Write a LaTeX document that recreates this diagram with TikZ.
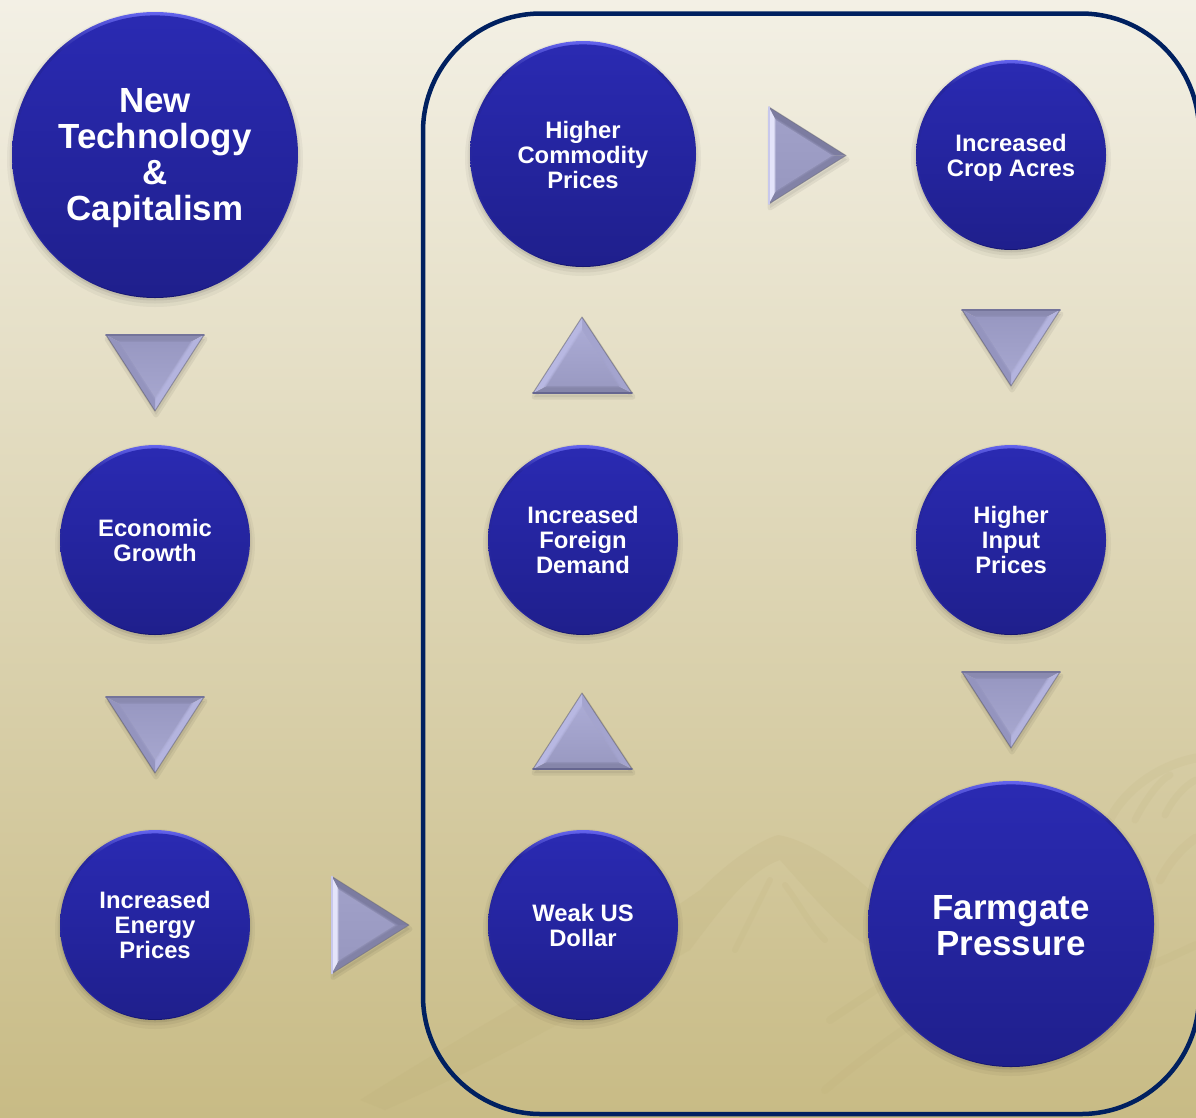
\documentclass[tikz,border=0pt]{standalone}
\usepackage{fontspec}
\setmainfont{Liberation Sans}
\usetikzlibrary{calc}
\definecolor{bgtop}{HTML}{F3F0E5}
\definecolor{bgbot}{HTML}{C8BB85}
\definecolor{frame}{HTML}{002060}
\definecolor{mount}{HTML}{B8AA72}
\definecolor{rimtop}{HTML}{6464EE}
\definecolor{rimmid}{HTML}{26269E}
\definecolor{rimbot}{HTML}{15156E}
\definecolor{discA}{HTML}{2A2AB2}
\definecolor{discB}{HTML}{1F1F8C}
\definecolor{dnA}{HTML}{8A8AB0}
\definecolor{dnB}{HTML}{B4B4DE}
\definecolor{dnC}{HTML}{9494BE}
\definecolor{dnT}{HTML}{9898C2}
\definecolor{dnM}{HTML}{A6A6CE}
\definecolor{dnE}{HTML}{74749A}
\definecolor{upA}{HTML}{8686AA}
\definecolor{upB}{HTML}{A4A4CE}
\definecolor{upC}{HTML}{B8B8E2}
\definecolor{upT}{HTML}{AAAAD4}
\definecolor{upM}{HTML}{9A9AC2}
\definecolor{upE}{HTML}{666690}
\definecolor{rtA}{HTML}{E4E4FA}
\definecolor{rtB}{HTML}{8282A6}
\definecolor{rtC}{HTML}{7C7CA0}
\definecolor{rtT}{HTML}{A0A0C8}
\definecolor{rtM}{HTML}{9898C0}
\definecolor{rtE}{HTML}{C8C8EC}
\pgfdeclareverticalshading{rimshade}{100bp}{color(0bp)=(rimbot); color(25bp)=(rimbot); color(30bp)=(rimmid); color(68bp)=(rimmid); color(75bp)=(rimtop); color(100bp)=(rimtop)}
\tikzset{
  x=1pt,y=-1pt,
  bigtext/.style={font=\bfseries\fontsize{34.9}{36}\selectfont},
  smalltext/.style={font=\bfseries\fontsize{23.8}{25}\selectfont},
  bubble/.style={circle,inner sep=0pt,align=center,text=white},
  ridge/.style={draw=mount,opacity=.11,line cap=round,line join=round},
}
% name, x, y, radius, text style, text
\newcommand{\bub}[6]{%
  \fill[black,opacity=.04] (#2,#3+4) circle[radius=#4pt+5pt];
  \fill[black,opacity=.05] (#2,#3+3) circle[radius=#4pt+2.5pt];
  \fill[black,opacity=.08] (#2,#3+2) circle[radius=#4pt+.5pt];
  \shade[shading=rimshade] (#2,#3) circle[radius=#4pt];
  \shade[top color=discA,bottom color=discB] (#2,#3+1.2) circle[radius=#4pt-2.2pt];
  \node[bubble,minimum size=2*#4pt,#5] (#1) at (#2,#3) {#6};
}
% A B C (tips), colour prefix
\newcommand{\tri}[4]{%
  \coordinate (A) at (#1); \coordinate (B) at (#2); \coordinate (C) at (#3);
  \coordinate (G) at (barycentric cs:A=1,B=1,C=1);
  \fill[black,opacity=.06,line join=round,draw=black,line width=5pt] ([shift={(1,4)}]A) -- ([shift={(1,4)}]B) -- ([shift={(1,4)}]C) -- cycle;
  \coordinate (a) at ($(A)!.28!(G)$);
  \coordinate (b) at ($(B)!.28!(G)$);
  \coordinate (c) at ($(C)!.28!(G)$);
  \fill[#4A] (A) -- (B) -- (b) -- (a) -- cycle;
  \fill[#4B] (B) -- (C) -- (c) -- (b) -- cycle;
  \fill[#4C] (C) -- (A) -- (a) -- (c) -- cycle;
  \foreach \k/\o in {.2/.2,.23/.3,.26/.5,.28/1}{%
    \shade[top color=#4T,bottom color=#4M,opacity=\o] ($(A)!\k!(G)$) -- ($(B)!\k!(G)$) -- ($(C)!\k!(G)$) -- cycle;
  }
  \draw[black!55!#4A,opacity=.4,line width=1pt,line join=round,line cap=round] (B) -- (C) -- (A);
  \draw[#4E,line width=1.6pt,line cap=round] (A) -- (B);
}
\newcommand{\tridown}[2]{\tri{#1,#2}{#1+98,#2}{#1+49,#2+76}{dn}}
\newcommand{\triup}[2]{\tri{#1,#2+76}{#1+99,#2+76}{#1+49,#2}{up}}
\newcommand{\triright}[2]{\tri{#1,#2}{#1,#2+97}{#1+77,#2+48.5}{rt}}
\begin{document}
\begin{tikzpicture}
\useasboundingbox (0,0) rectangle (1196,1117);
\clip (0,0) rectangle (1196,1117);
\shade[top color=bgtop,bottom color=bgbot] (0,0) rectangle (1196,1117);
% faint watermark mountains
\fill[mount,opacity=.14] (360,1100) .. controls (470,1030) and (600,960) .. (700,890) .. controls (730,860) and (760,840) .. (778,835) .. controls (810,840) and (850,870) .. (880,900) -- (890,960) .. controls (850,940) and (820,905) .. (780,860) .. controls (750,870) and (720,910) .. (690,950) .. controls (620,990) and (500,1060) .. (385,1110) -- cycle;
\draw[ridge,line width=6pt] (770,880) .. controls (755,910) and (745,930) .. (735,950);
\draw[ridge,line width=6pt] (785,885) .. controls (800,905) and (810,925) .. (825,940);
\draw[ridge,line width=8pt] (825,1090) .. controls (860,1060) and (900,1030) .. (950,1000);
\draw[ridge,line width=8pt] (830,1020) .. controls (860,1000) and (890,980) .. (920,960);
\draw[ridge,line width=9pt] (1105,830) .. controls (1120,790) and (1160,765) .. (1196,758);
\draw[ridge,line width=7pt] (1135,820) .. controls (1145,800) and (1160,780) .. (1170,775);
\draw[ridge,line width=7pt] (1165,815) .. controls (1172,800) and (1185,785) .. (1196,780);
\draw[ridge,line width=9pt] (1160,880) .. controls (1170,860) and (1185,845) .. (1196,838);
\draw[ridge,line width=8pt] (1150,965) .. controls (1165,960) and (1185,950) .. (1196,945);
% frame
\draw[frame,line width=4.5pt,rounded corners=118pt] (423,13.5) rectangle (1199,1114);
% bubbles
\bub{tech}{155}{155}{143}{bigtext,yshift=-3pt}{New\\Technology\\\&\\Capitalism}
\bub{growth}{155}{540}{95}{smalltext}{Economic\\Growth}
\bub{energy}{155}{925}{95}{smalltext}{Increased\\Energy\\Prices}
\bub{commodity}{583}{154}{113}{smalltext,yshift=-1pt}{Higher\\Commodity\\Prices}
\bub{foreign}{583}{540}{95}{smalltext}{Increased\\Foreign\\Demand}
\bub{dollar}{583}{925}{95}{smalltext}{Weak US\\Dollar}
\bub{acres}{1011}{155}{95}{smalltext,yshift=-3pt}{Increased\\Crop Acres}
\bub{input}{1011}{540}{95}{smalltext}{Higher\\Input\\Prices}
\bub{farmgate}{1011}{924}{143}{bigtext,yshift=-2pt}{Farmgate\\Pressure}
% block arrows
\tridown{106}{335}
\tridown{106}{697}
\tridown{962}{310}
\tridown{962}{672}
\triup{533}{317}
\triup{533}{693}
\triright{332}{876.5}
\triright{769}{107}
\end{tikzpicture}
\end{document}
